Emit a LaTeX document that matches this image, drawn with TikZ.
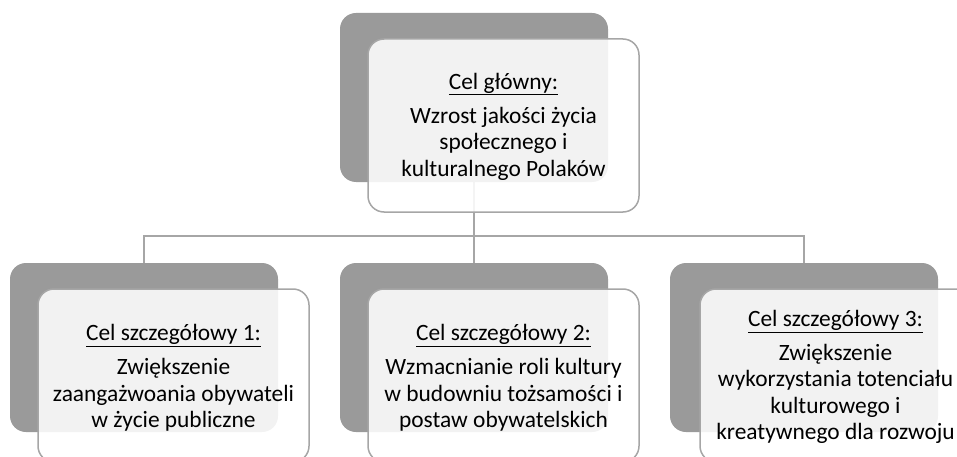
\documentclass[tikz,border=0pt]{standalone}
\usepackage{fontspec}
\setmainfont{Carlito}
\usetikzlibrary{backgrounds}
\definecolor{darkbox}{HTML}{9A9A9A}
\definecolor{edgegray}{HTML}{A6A6A6}
\tikzset{
  x=1pt, y=-1pt,
  shadowbox/.style={draw=none, fill=darkbox, rounded corners=16pt,
    minimum width=268pt, minimum height=169pt, inner sep=0pt, outer sep=0pt},
  textbox/.style={draw=edgegray, line width=1.5pt, fill=white, fill opacity=0.88,
    rounded corners=16pt, minimum width=271pt, minimum height=173pt,
    inner sep=0pt, outer sep=0pt},
  boxtext/.style={inner sep=0pt, align=center,
    font=\fontsize{23.4}{26.5}\selectfont},
  link/.style={draw=edgegray, line width=2pt}
}
\newcommand{\ttl}[1]{\underline{#1}\\[7.5pt]}
\begin{document}
\begin{tikzpicture}
\useasboundingbox (0,0) rectangle (957,457);
% shadow boxes
\node[shadowbox] (d0) at (474,97.5) {};
\node[shadowbox] (d1) at (144,347.5) {};
\node[shadowbox] (d2) at (474,347.5) {};
\node[shadowbox] (d3) at (804,347.5) {};
% connectors
\coordinate (bus) at (474,236);
\begin{scope}[on background layer]
\draw[link] (d0.south) -- (bus);
\draw[link] (d1.north) |- (bus);
\draw[link] (d2.north) -- (bus);
\draw[link] (d3.north) |- (bus);
\end{scope}
% front boxes
\node[textbox] (w0) at (503.5,125.5) {};
\node[textbox] (w1) at (173.5,375.5) {};
\node[textbox] (w2) at (503.5,375.5) {};
\node[textbox] (w3) at (835.5,375.5) {};
% texts
\node[boxtext] (t0) at (503.5,126.5) {\ttl{Cel główny:}Wzrost jakości życia\\społecznego i\\kulturalnego Polaków};
\node[boxtext] (t1) at (173.5,378) {\ttl{Cel szczegółowy 1:}Zwiększenie\\zaangażwoania obywateli\\w życie publiczne};
\node[boxtext] (t2) at (503.5,378) {\ttl{Cel szczegółowy 2:}Wzmacnianie roli kultury\\w budowniu tożsamości i\\postaw obywatelskich};
\node[boxtext] (t3) at (835.5,377) {\ttl{Cel szczegółowy 3:}Zwiększenie\\wykorzystania totenciału\\kulturowego i\\kreatywnego dla rozwoju};
\end{tikzpicture}
\end{document}
